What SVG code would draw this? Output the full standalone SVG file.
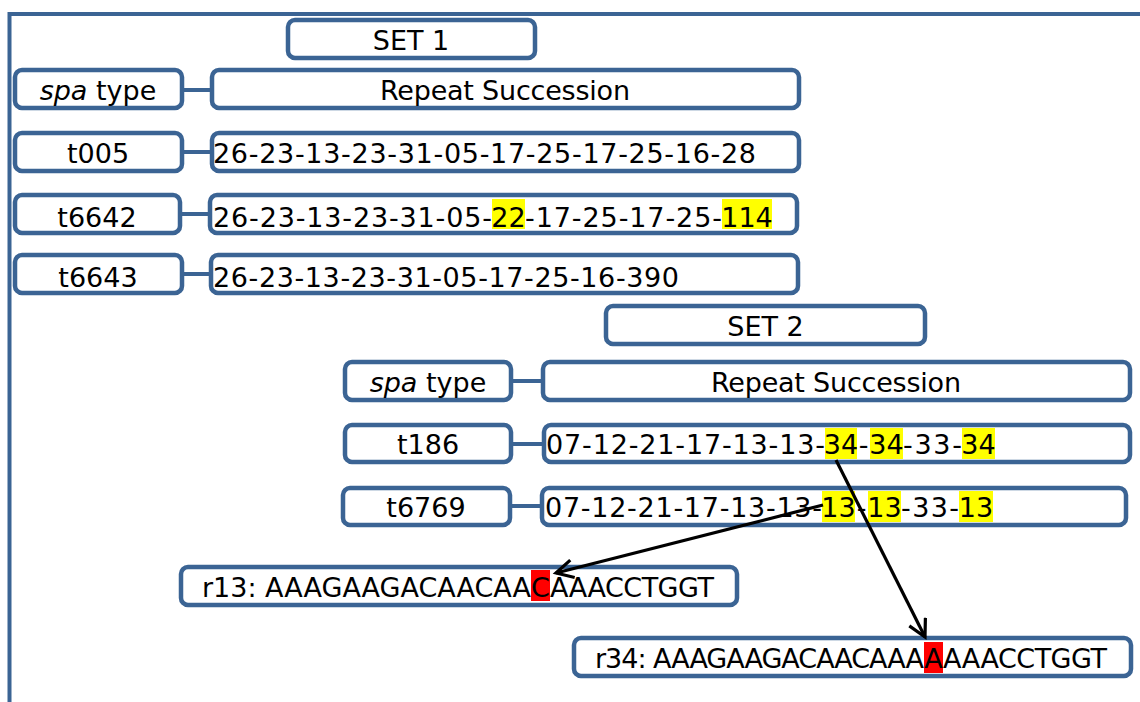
<svg xmlns="http://www.w3.org/2000/svg" width="1140" height="702" viewBox="0 0 1140 702">
<style>
.box{fill:#fff;stroke:#3B6494;stroke-width:4.5}
.lnk{stroke:#3B6494;stroke-width:4;fill:none}
.t{font-family:"DejaVu Sans","Liberation Sans",sans-serif;font-size:27px;fill:#000}
.m{text-anchor:middle}
.hy{fill:#FFFF00}
.hr{fill:#FF0000}
.arr{stroke:#000;fill:none;stroke-width:3.2}
</style>
<defs>
<marker id="ah" markerUnits="userSpaceOnUse" markerWidth="24" markerHeight="24" refX="18" refY="10" orient="auto">
<path d="M1,1 L18,10 L1,19" fill="none" stroke="#000" stroke-width="3.2"/>
</marker>
</defs>
<rect width="1140" height="702" fill="#fff"/>
<g id="frame">
<path d="M9.5,702 V14 H1140" class="lnk"/>
</g>
<g id="set1">
<rect class="box" x="288" y="20" width="247" height="38" rx="7"/>
<text class="t m" x="411" y="50">SET 1</text>
</g>
<g id="spa1">
<rect class="box" x="15" y="70" width="167" height="38" rx="7"/>
<text class="t m" x="98" y="100"><tspan font-style="italic">spa</tspan> type</text>
</g>
<g id="rep1">
<rect class="box" x="212" y="70" width="587" height="38" rx="7"/>
<text class="t m" x="505" y="100" textLength="250">Repeat Succession</text>
</g>
<g id="t005">
<rect class="box" x="15" y="133" width="167" height="38" rx="7"/>
<text class="t m" x="98" y="163">t005</text>
</g>
<g id="seq-t005">
<rect class="box" x="212" y="133" width="587" height="38" rx="7"/>
<text class="t" x="213" y="163" textLength="543">26-23-13-23-31-05-17-25-17-25-16-28</text>
</g>
<g id="t6642">
<rect class="box" x="15" y="195" width="165" height="38" rx="7"/>
<text class="t m" x="97" y="227">t6642</text>
</g>
<g id="seq-t6642">
<rect class="box" x="210" y="195" width="587" height="38" rx="7"/>
<rect class="hy" x="492" y="199" width="33" height="30"/>
<rect class="hy" x="722" y="199" width="50" height="30"/>
<text class="t" x="213" y="227" textLength="279">26-23-13-23-31-05-</text>
<text class="t m" x="508.5" y="227">22</text>
<text class="t" x="525" y="227" textLength="197">-17-25-17-25-</text>
<text class="t m" x="747" y="227">114</text>
</g>
<g id="t6643">
<rect class="box" x="15" y="255" width="167" height="38" rx="7"/>
<text class="t m" x="98" y="287">t6643</text>
</g>
<g id="seq-t6643">
<rect class="box" x="211" y="255" width="587" height="38" rx="7"/>
<text class="t" x="213" y="287" textLength="466">26-23-13-23-31-05-17-25-16-390</text>
</g>
<g id="set2">
<rect class="box" x="606" y="306" width="319" height="38" rx="7"/>
<text class="t m" x="765.5" y="336">SET 2</text>
</g>
<g id="spa2">
<rect class="box" x="345" y="362" width="166" height="38" rx="7"/>
<text class="t m" x="428" y="392"><tspan font-style="italic">spa</tspan> type</text>
</g>
<g id="rep2">
<rect class="box" x="543" y="362" width="587" height="38" rx="7"/>
<text class="t m" x="836" y="392" textLength="250">Repeat Succession</text>
</g>
<g id="t186">
<rect class="box" x="345" y="425" width="166" height="37" rx="7"/>
<text class="t m" x="428" y="454">t186</text>
</g>
<g id="seq-t186">
<rect class="box" x="544" y="425" width="586" height="37" rx="7"/>
<rect class="hy" x="825" y="428" width="32" height="31"/>
<rect class="hy" x="870" y="428" width="33" height="31"/>
<rect class="hy" x="962" y="428" width="33" height="31"/>
<text class="t" x="546" y="454" textLength="279">07-12-21-17-13-13-</text>
<text class="t m" x="841" y="454">34</text>
<text class="t m" x="863.5" y="454">-</text>
<text class="t m" x="886.5" y="454">34</text>
<text class="t" x="903" y="454" textLength="59">-33-</text>
<text class="t m" x="978.5" y="454">34</text>
</g>
<g id="t6769">
<rect class="box" x="343" y="488" width="167" height="37" rx="7"/>
<text class="t m" x="426" y="517">t6769</text>
</g>
<g id="seq-t6769">
<rect class="box" x="542" y="488" width="584" height="37" rx="7"/>
<rect class="hy" x="822" y="491" width="33" height="31"/>
<rect class="hy" x="868" y="491" width="33" height="31"/>
<rect class="hy" x="959" y="491" width="34" height="31"/>
<text class="t" x="545" y="517" textLength="277">07-12-21-17-13-13-</text>
<text class="t m" x="838.5" y="517">13</text>
<text class="t m" x="861.5" y="517">-</text>
<text class="t m" x="884.5" y="517">13</text>
<text class="t" x="901" y="517" textLength="58">-33-</text>
<text class="t m" x="976" y="517">13</text>
</g>
<g id="r13">
<rect class="box" x="181" y="567" width="556" height="38" rx="7"/>
<rect class="hr" x="531" y="570" width="19" height="31"/>
<text class="t" x="202" y="597" textLength="329">r13: AAAGAAGACAACAA</text>
<text class="t m" x="540.5" y="597">C</text>
<text class="t" x="550" y="597" textLength="164">AAACCTGGT</text>
</g>
<g id="r34">
<rect class="box" x="574" y="638" width="557" height="38" rx="7"/>
<rect class="hr" x="924" y="642" width="19" height="31"/>
<text class="t" x="595" y="668" textLength="329">r34: AAAGAAGACAACAAA</text>
<text class="t m" x="933.5" y="668">A</text>
<text class="t" x="943" y="668" textLength="164">AAACCTGGT</text>
</g>
<g id="connectors">
<line class="lnk" x1="182" y1="90" x2="212" y2="90"/>
<line class="lnk" x1="182" y1="152" x2="212" y2="152"/>
<line class="lnk" x1="180" y1="214" x2="210" y2="214"/>
<line class="lnk" x1="182" y1="274" x2="211" y2="274"/>
<line class="lnk" x1="511" y1="381" x2="543" y2="381"/>
<line class="lnk" x1="511" y1="444" x2="544" y2="444"/>
<line class="lnk" x1="510" y1="506" x2="542" y2="506"/>
<line class="arr" x1="836" y1="460" x2="925" y2="637" marker-end="url(#ah)"/>
<line class="arr" x1="823" y1="505" x2="556" y2="573" marker-end="url(#ah)" stroke-width="3.6"/>
</g>
</svg>
